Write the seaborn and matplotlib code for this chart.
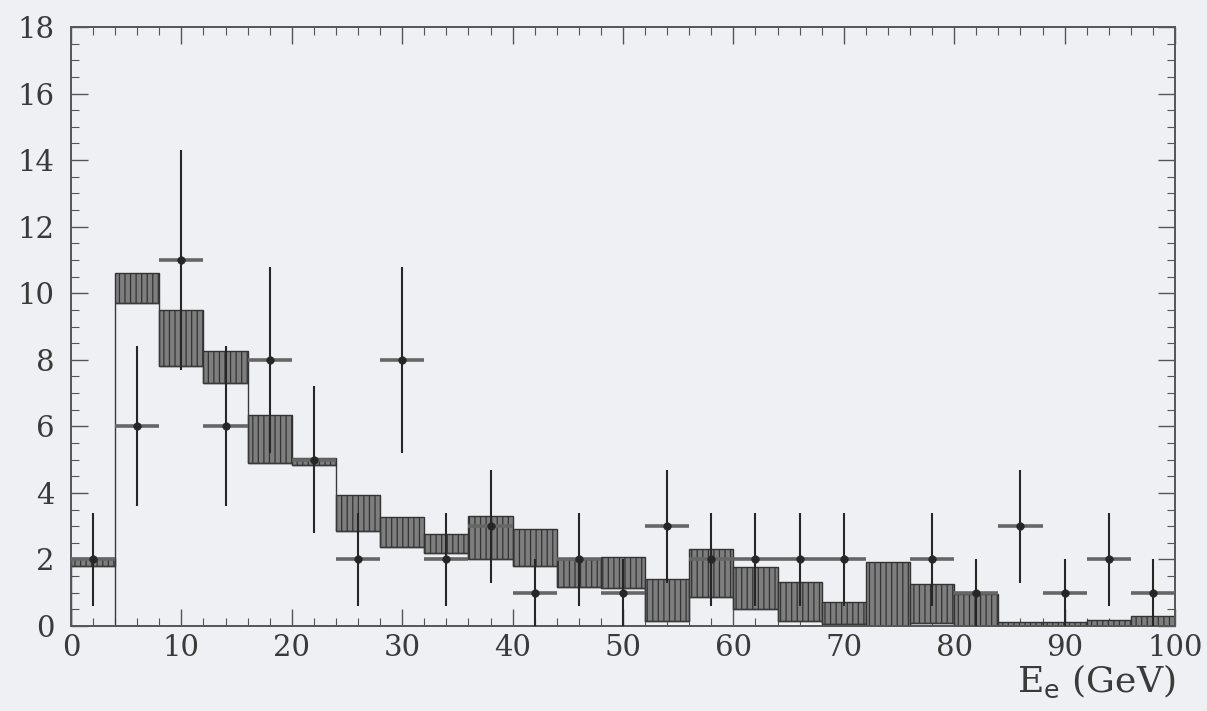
"""Electron energy spectrum: data points over the predicted band."""

import matplotlib
matplotlib.use("Agg")
import matplotlib.pyplot as plt
import numpy as np
import pandas as pd
import seaborn as sns
from matplotlib.ticker import MultipleLocator

# bin edges of the E_e histogram (GeV)
bin_edges = [0, 4, 8, 12, 16, 20, 24, 28, 32, 36, 40, 44, 48, 52, 56, 60,
             64, 68, 72, 76, 80, 84, 88, 92, 96, 100]

# predicted band (lower / upper edge per bin)
band_low = [1.8, 9.7, 7.8, 7.3, 4.9, 4.85, 2.85, 2.37, 2.18, 2.0, 1.8, 1.17,
            1.15, 0.15, 0.87, 0.5, 0.15, 0.05, 0.0, 0.1, 0.0, 0.0, 0.0, 0.0, 0.0]
band_high = [2.05, 10.6, 9.5, 8.25, 6.35, 5.05, 3.95, 3.27, 2.76, 3.3, 2.92, 2.0,
             2.08, 1.4, 2.3, 1.77, 1.32, 0.72, 1.92, 1.26, 0.96, 0.13, 0.13, 0.17, 0.31]

# observed events and their errors
data_counts = [2, 6, 11, 6, 8, 5, 2, 8, 2, 3, 1, 2, 1, 3, 2, 2, 2, 2, 0, 2,
               1, 3, 1, 2, 1]
data_errors = [1.4, 2.4, 3.3, 2.4, 2.8, 2.2, 1.4, 2.8, 1.4, 1.7, 1.0, 1.4, 1.0,
               1.7, 1.4, 1.4, 1.4, 1.4, 0.0, 1.4, 1.0, 1.7, 1.0, 1.4, 1.0]

x_ticks = [0, 10, 20, 30, 40, 50, 60, 70, 80, 90, 100]
y_ticks = [0, 2, 4, 6, 8, 10, 12, 14, 16, 18]

sns.set_theme(style="ticks")
plt.rcParams["font.family"] = ["DejaVu Serif"]
plt.rcParams["hatch.color"] = "#363636"
plt.rcParams["hatch.linewidth"] = 0.9

bg = "#eef0f4"
ink = "#262626"

edges = np.array(bin_edges, dtype=float)
widths = np.diff(edges)
centers = edges[:-1] + widths / 2

df = pd.DataFrame({
    "E": centers,
    "n": data_counts,
    "err": data_errors,
    "half": widths / 2,
})
df = df[df["n"] > 0]

fig = plt.figure(figsize=(12.07, 7.11), dpi=100, facecolor=bg)
ax = fig.add_axes([0.0588, 0.1195, 0.9147, 0.8425])
ax.set_facecolor(bg)

low = np.array(band_low)
high = np.array(band_high)
ax.bar(edges[:-1], high - low, width=widths, bottom=low, align="edge",
       color="#7e7e7e", edgecolor="#333333", linewidth=1.0, hatch="|||", zorder=2)
ax.stairs(low, edges, color="#3a3a3a", linewidth=1.0, zorder=2)
ax.plot([4, 4], [0, low[0]], color="#3a3a3a", linewidth=1.0, zorder=2)

# data with errors: thick grey bin-width bars, thin dark vertical errors
ax.errorbar(df["E"], df["n"], xerr=df["half"], fmt="none",
            ecolor="#666666", elinewidth=2.6, capsize=0, zorder=3)
ax.errorbar(df["E"], df["n"], yerr=df["err"], fmt="none",
            ecolor=ink, elinewidth=1.5, capsize=0, zorder=3)
sns.scatterplot(data=df, x="E", y="n", ax=ax, color=ink, s=30,
                edgecolor=ink, zorder=4, legend=False)

ax.set_xlim(0, 100)
ax.set_ylim(0, 18)
ax.set_xticks(x_ticks)
ax.set_yticks(y_ticks)
ax.xaxis.set_minor_locator(MultipleLocator(2))
ax.yaxis.set_minor_locator(MultipleLocator(0.5))
ax.tick_params(which="both", direction="in", top=True, right=True,
               colors="#555555", labelcolor="#3a3a3a")
ax.tick_params(which="major", length=12, width=1.0, labelsize=21)
ax.tick_params(which="minor", length=6, width=0.8)
ax.tick_params(axis="x", pad=6)
ax.tick_params(axis="y", pad=12)
for side in ax.spines.values():
    side.set_color("#555555")
    side.set_linewidth(1.4)

ax.set_xlabel(r"E$_{\mathrm{e}}$ (GeV)", loc="right", fontsize=26,
              color="#3a3a3a", labelpad=0)
ax.set_ylabel("")

fig.savefig("out.png", dpi=100, facecolor=bg)
